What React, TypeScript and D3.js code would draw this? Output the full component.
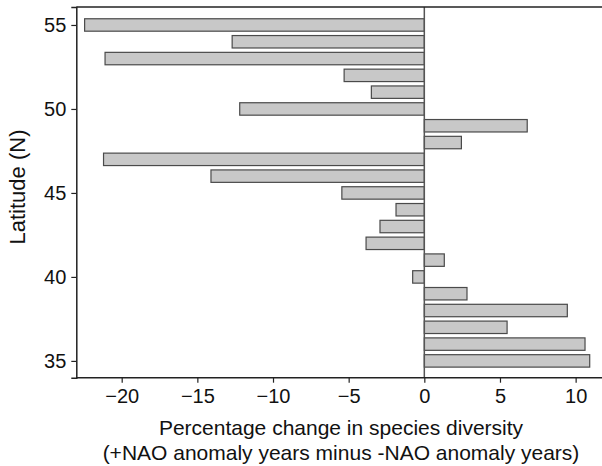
import React from "react";
import * as d3 from "d3";

// latitude of each band (N) and the % change in species diversity
const latitudes = [55, 54, 53, 52, 51, 50, 49, 48, 47, 46, 45, 44, 43, 42, 41, 40, 39, 38, 37, 36, 35];
const changes = [-22.45, -12.7, -21.1, -5.3, -3.5, -12.2, 6.8, 2.45, -21.2, -14.1, -5.45, -1.87, -2.93, -3.85, 1.32, -0.77, 2.82, 9.45, 5.47, 10.62, 10.93];
const xTicks = [-20, -15, -10, -5, 0, 5, 10];
const yTicks = [35, 40, 45, 50, 55];
const xTitle = ["Percentage change in species diversity", "(+NAO anomaly years minus -NAO anomaly years)"];
const yTitle = "Latitude (N)";

const W = 602;
const H = 466;
const font = "'Liberation Sans', Arial, Helvetica, sans-serif";

function drawChart(node: SVGSVGElement) {
  const svg = d3.select(node);
  svg.selectAll("*").remove();

  const x = d3.scaleLinear().domain([-23, 12]).range([76.3, 605.9]);
  const y = d3.scaleLinear().domain([34, 56.07]).range([377.7, 7]);
  const halfBar = 0.37;

  const data = latitudes.map((lat, i) => ({ lat, v: changes[i] }));

  svg
    .append("g")
    .selectAll("rect")
    .data(data)
    .join("rect")
    .attr("x", (d) => x(Math.min(0, d.v)))
    .attr("width", (d) => Math.abs(x(d.v) - x(0)))
    .attr("y", (d) => y(d.lat + halfBar))
    .attr("height", (d) => y(d.lat - halfBar) - y(d.lat + halfBar))
    .attr("fill", "#c8c8c8")
    .attr("stroke", "#4a4a4a")
    .attr("stroke-width", 1.2);

  // zero line
  svg
    .append("line")
    .attr("x1", x(0))
    .attr("x2", x(0))
    .attr("y1", y.range()[1])
    .attr("y2", y.range()[0])
    .attr("stroke", "#555")
    .attr("stroke-width", 1.5);

  // top frame line
  svg
    .append("line")
    .attr("x1", x.range()[0])
    .attr("x2", W)
    .attr("y1", y.range()[1])
    .attr("y2", y.range()[1])
    .attr("stroke", "#222")
    .attr("stroke-width", 1.5);

  const xAxis = svg
    .append("g")
    .attr("transform", `translate(0,${y.range()[0]})`)
    .call(
      d3
        .axisBottom(x)
        .tickValues(xTicks)
        .tickSize(5)
        .tickPadding(6)
        .tickFormat((d) => String(d).replace("-", "\u2212"))
    );
  const yAxis = svg
    .append("g")
    .attr("transform", `translate(${x.range()[0]},0)`)
    .call(d3.axisLeft(y).tickValues(yTicks).tickSize(5).tickPadding(5));

  [xAxis, yAxis].forEach((g) => {
    g.select(".domain").attr("stroke", "#222").attr("stroke-width", 1.5);
    g.selectAll(".tick line").attr("stroke", "#222").attr("stroke-width", 1.2);
    g.selectAll(".tick text")
      .attr("fill", "#111")
      .style("font-family", font)
      .style("font-size", "20px");
  });
  xAxis.select(".domain").attr("d", `M${x.range()[0]},0H${W}`);

  svg
    .append("g")
    .selectAll("text")
    .data(xTitle)
    .join("text")
    .attr("x", 341)
    .attr("y", (_, i) => 435 + i * 25)
    .attr("text-anchor", "middle")
    .attr("fill", "#111")
    .style("font-family", font)
    .style("font-size", "21px")
    .text((d) => d);

  svg
    .append("text")
    .attr("transform", `translate(25,187) rotate(-90)`)
    .attr("text-anchor", "middle")
    .attr("fill", "#111")
    .style("font-family", font)
    .style("font-size", "22px")
    .text(yTitle);
}

export default function App() {
  const ref = React.useRef<SVGSVGElement>(null);
  React.useEffect(() => {
    if (ref.current) drawChart(ref.current);
  }, []);
  return (
    <svg
      ref={ref}
      width={W}
      height={H}
      style={{ position: "absolute", left: 0, top: 0, background: "#fff" }}
    />
  );
}
